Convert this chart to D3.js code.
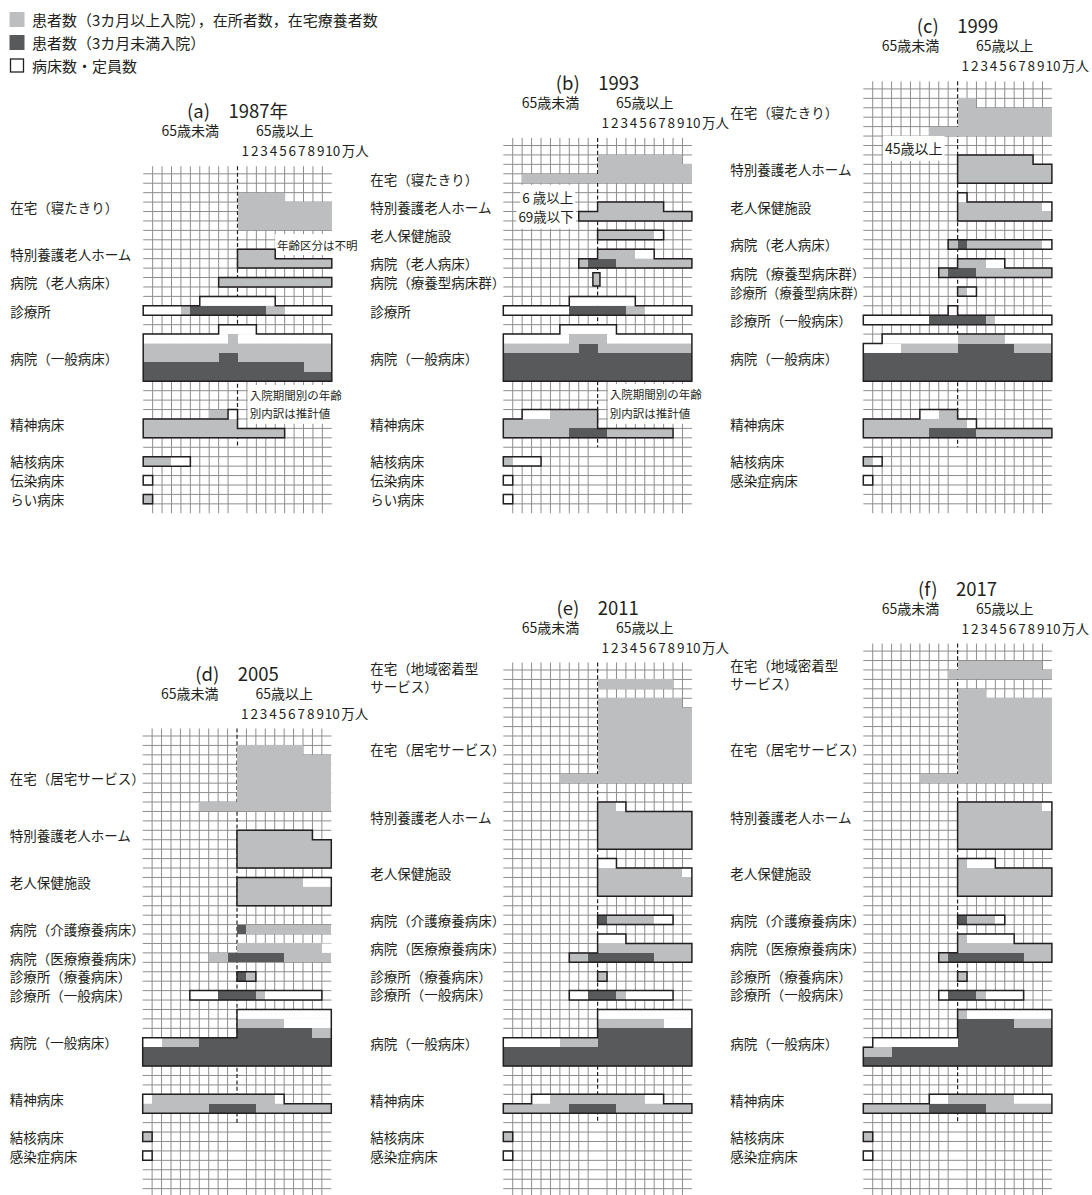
<!DOCTYPE html>
<html lang="ja">
<head>
<meta charset="utf-8">
<script src="https://cdn.jsdelivr.net/npm/d3@7"></script>
<style>
  html, body { margin: 0; padding: 0; background: #fff; }
  svg { display: block; font-family: "Noto Sans CJK JP", "Noto Sans", sans-serif; }
</style>
</head>
<body>
<svg id="chart" width="1092" height="1195"></svg>
<script>
// Units: columns are 1万人 each (-10..0 = 65歳未満, 0..10 = 65歳以上); rows are stacked bands.
// caps  : 病床数・定員数 (white, outlined per category)  [category, row, from, to, (rows)]
// long  : 患者数（3カ月以上入院）・在所者数・在宅療養者数  [row, from, to, (rows)]
// short : 患者数（3カ月未満入院）                          [row, from, to, (rows)]

// ---------- 1987 ----------
const caps1987 = [
  ["特別養護老人ホーム", 8, 0, 4], ["特別養護老人ホーム", 9, 0, 10],
  ["病院（老人病床）", 11, -2, 10],
  ["診療所", 13, -4, 4], ["診療所", 14, -10, 10],
  ["病院（一般病床）", 16, -2, 2], ["病院（一般病床）", 17, -10, 10], ["病院（一般病床）", 18, -10, 10],
  ["病院（一般病床）", 19, -10, 10], ["病院（一般病床）", 20, -10, 10], ["病院（一般病床）", 21, -10, 10],
  ["精神病床", 25, -1, 0], ["精神病床", 26, -10, 0], ["精神病床", 27, -10, 5],
  ["結核病床", 30, -10, -5],
  ["伝染病床", 32, -10, -9],
  ["らい病床", 34, -10, -9]
];
const long1987 = [
  [2, 0, 5], [3, 0, 10], [4, 0, 10], [5, 0, 10],
  [8, 0, 4], [9, 0, 10],
  [11, -2, 10],
  [14, -6, -5], [14, 3, 5],
  [17, -1, 0], [18, -10, 10], [19, -10, 10], [20, 7, 10],
  [25, -3, -1], [26, -10, 0], [27, -10, 5],
  [30, -10, -7],
  [34, -10, -9]
];
const short1987 = [[14, -5, 3], [19, -2, 0], [20, -10, 7], [21, -10, 10]];
const labels1987 = [
  ["在宅（寝たきり）", 3.5], ["特別養護老人ホーム", 8.5], ["病院（老人病床）", 11.5], ["診療所", 14.5],
  ["病院（一般病床）", 19.5], ["精神病床", 26.5], ["結核病床", 30.5], ["伝染病床", 32.5], ["らい病床", 34.5]
];

// ---------- 1993 ----------
const caps1993 = [
  ["特別養護老人ホーム", 6, 0, 7], ["特別養護老人ホーム", 7, -2, 10],
  ["老人保健施設", 9, 0, 7],
  ["病院（老人病床）", 11, 0, 6], ["病院（老人病床）", 12, -2, 10],
  ["病院（療養型病床群）", 13.5, -0.5, 0.25, 1.4],
  ["診療所", 16, -3, 4], ["診療所", 17, -10, 10],
  ["病院（一般病床）", 19, -4, 2], ["病院（一般病床）", 20, -10, 10], ["病院（一般病床）", 21, -10, 10],
  ["病院（一般病床）", 22, -10, 10], ["病院（一般病床）", 23, -10, 10], ["病院（一般病床）", 24, -10, 10],
  ["精神病床", 28, -8, 0], ["精神病床", 29, -10, 0], ["精神病床", 30, -10, 8],
  ["結核病床", 33, -10, -6],
  ["伝染病床", 35, -10, -9],
  ["らい病床", 37, -10, -9]
];
const long1993 = [
  [1, 0, 9], [2, 0, 10], [3, -8, 10],
  [6, 0, 7], [7, -2, 10],
  [9, 0, 6],
  [11, 0, 4], [12, -2, 10],
  [13.5, -0.5, 0.25, 1.4],
  [17, 3, 5],
  [20, -3, 1], [21, -10, 10],
  [28, -5, 0], [29, -10, 0], [30, -10, 8],
  [33, -10, -9]
];
const short1993 = [[12, -1, 2], [17, -3, 3], [21, -2, 0], [22, -10, 10], [23, -10, 10], [24, -10, 10], [30, -3, 1]];
const labels1993 = [
  ["在宅（寝たきり）", 3.5], ["特別養護老人ホーム", 6.5], ["老人保健施設", 9.5], ["病院（老人病床）", 12.5],
  ["病院（療養型病床群）", 14.5], ["診療所", 17.5], ["病院（一般病床）", 22.5], ["精神病床", 29.5],
  ["結核病床", 33.5], ["伝染病床", 35.5], ["らい病床", 37.5]
];

// ---------- 1999 ----------
const caps1999 = [
  ["特別養護老人ホーム", 7, 0, 8], ["特別養護老人ホーム", 8, 0, 10], ["特別養護老人ホーム", 9, 0, 10],
  ["老人保健施設", 11, 0, 1], ["老人保健施設", 12, 0, 10], ["老人保健施設", 13, 0, 10],
  ["病院（老人病床）", 16, -1, 10],
  ["病院（療養型病床群）", 18, 0, 5], ["病院（療養型病床群）", 19, -2, 10],
  ["診療所（療養型病床群）", 21, 0, 2],
  ["診療所（一般病床）", 23, -1, 0], ["診療所（一般病床）", 24, -10, 10],
  ["病院（一般病床）", 26, -8, 10], ["病院（一般病床）", 27, -10, 10], ["病院（一般病床）", 28, -10, 10],
  ["病院（一般病床）", 29, -10, 10], ["病院（一般病床）", 30, -10, 10],
  ["精神病床", 34, -4, 0], ["精神病床", 35, -10, 2], ["精神病床", 36, -10, 10],
  ["結核病床", 39, -10, -8],
  ["感染症病床", 41, -10, -9]
];
const long1999 = [
  [1, 0, 2], [2, 0, 10], [3, 0, 10], [4, -3, 10],
  [7, 0, 8], [8, 0, 10], [9, 0, 10],
  [12, 0, 9], [13, 0, 10],
  [16, -1, 0], [16, 1, 9],
  [18, 0, 3], [19, -2, -1], [19, 2, 10],
  [21, 0, 1],
  [24, 3, 4],
  [26, 0, 5], [27, -6, 0], [27, 6, 10],
  [34, -2, 0], [35, -10, 1], [36, -10, -3], [36, 2, 10],
  [39, -10, -9]
];
const short1999 = [[16, 0, 1], [19, -1, 2], [24, -3, 3], [27, 0, 6], [28, -10, 10], [29, -10, 10], [30, -10, 10], [36, -3, 2]];
const labels1999 = [
  ["在宅（寝たきり）", 2.5], ["特別養護老人ホーム", 8.5], ["老人保健施設", 12.5], ["病院（老人病床）", 16.5],
  ["病院（療養型病床群）", 19.5], ["診療所（療養型病床群）", 21.5], ["診療所（一般病床）", 24.5],
  ["病院（一般病床）", 28.5], ["精神病床", 35.5], ["結核病床", 39.5], ["感染症病床", 41.5]
];

// ---------- 2005 ----------
const caps2005 = [
  ["特別養護老人ホーム", 10, 0, 8], ["特別養護老人ホーム", 11, 0, 10], ["特別養護老人ホーム", 12, 0, 10], ["特別養護老人ホーム", 13, 0, 10],
  ["老人保健施設", 15, 0, 10], ["老人保健施設", 16, 0, 10], ["老人保健施設", 17, 0, 10],
  ["診療所（療養病床）", 25, 0, 2],
  ["診療所（一般病床）", 27, -5, 9],
  ["病院（一般病床）", 29, 0, 10], ["病院（一般病床）", 30, 0, 10], ["病院（一般病床）", 31, 0, 10],
  ["病院（一般病床）", 32, -10, 10], ["病院（一般病床）", 33, -10, 10], ["病院（一般病床）", 34, -10, 10],
  ["精神病床", 38, -10, 5], ["精神病床", 39, -10, 10],
  ["結核病床", 42, -10, -9],
  ["感染症病床", 44, -10, -9]
];
const open2005 = [[22, 9, 10]];   // unoccupied beds drawn without an outline
const long2005 = [
  [1, 0, 7], [2, 0, 10], [3, 0, 10], [4, 0, 10], [5, 0, 10], [6, 0, 10], [7, -4, 10],
  [10, 0, 8], [11, 0, 10], [12, 0, 10], [13, 0, 10],
  [15, 0, 7], [16, 0, 10], [17, 0, 10],
  [20, 1, 10],
  [22, 0, 9], [23, -3, -1], [23, 5, 10],
  [25, 1, 2],
  [27, 2, 3],
  [30, 0, 5], [31, 8, 10], [32, -8, -4],
  [38, -9, 4], [39, -10, -3], [39, 2, 10],
  [42, -10, -9]
];
const short2005 = [[20, 0, 1], [23, -1, 5], [25, 0, 1], [27, -2, 2], [31, 0, 8], [32, -4, 10], [33, -10, 10], [34, -10, 10], [39, -3, 2]];
const labels2005 = [
  ["在宅（居宅サービス）", 4.5], ["特別養護老人ホーム", 10.5], ["老人保健施設", 15.5], ["病院（介護療養病床）", 20.5],
  ["病院（医療療養病床）", 23.5], ["診療所（療養病床）", 25.5], ["診療所（一般病床）", 27.5], ["病院（一般病床）", 32.5],
  ["精神病床", 38.5], ["結核病床", 42.5], ["感染症病床", 44.5]
];

// ---------- 2011 ----------
const caps2011 = [
  ["特別養護老人ホーム", 14, 0, 3], ["特別養護老人ホーム", 15, 0, 10], ["特別養護老人ホーム", 16, 0, 10],
  ["特別養護老人ホーム", 17, 0, 10], ["特別養護老人ホーム", 18, 0, 10],
  ["老人保健施設", 20, 0, 2], ["老人保健施設", 21, 0, 10], ["老人保健施設", 22, 0, 10], ["老人保健施設", 23, 0, 10],
  ["病院（介護療養病床）", 26, 0, 8],
  ["病院（医療療養病床）", 28, 0, 3], ["病院（医療療養病床）", 29, 0, 10], ["病院（医療療養病床）", 30, -3, 10],
  ["診療所（療養病床）", 32, 0, 1],
  ["診療所（一般病床）", 34, -3, 8],
  ["病院（一般病床）", 36, 0, 10], ["病院（一般病床）", 37, 0, 10], ["病院（一般病床）", 38, 0, 10],
  ["病院（一般病床）", 39, -10, 10], ["病院（一般病床）", 40, -10, 10], ["病院（一般病床）", 41, -10, 10],
  ["精神病床", 45, -7, 7], ["精神病床", 46, -10, 10],
  ["結核病床", 49, -10, -9],
  ["感染症病床", 51, -10, -9]
];
const long2011 = [
  [1, 0, 8],
  [3, 0, 9], [4, 0, 10], [5, 0, 10], [6, 0, 10], [7, 0, 10], [8, 0, 10], [9, 0, 10], [10, 0, 10], [11, -4, 10],
  [14, 0, 2], [15, 0, 10], [16, 0, 10], [17, 0, 10], [18, 0, 10],
  [21, 0, 9], [22, 0, 10], [23, 0, 10],
  [26, 1, 6],
  [29, 0, 10], [30, -3, -1], [30, 6, 10],
  [32, 0, 1],
  [34, 2, 3],
  [37, 0, 7], [39, -4, 0],
  [45, -5, 5], [46, -10, -3], [46, 2, 10],
  [49, -10, -9]
];
const short2011 = [[26, 0, 1], [30, -1, 6], [34, -1, 2], [38, 0, 10], [39, 0, 10], [40, -10, 10], [41, -10, 10], [46, -3, 2]];
const labels2011 = [
  ["在宅（地域密着型\nサービス）", 0.7], ["在宅（居宅サービス）", 8.4], ["特別養護老人ホーム", 15.6], ["老人保健施設", 21.5],
  ["病院（介護療養病床）", 26.5], ["病院（医療療養病床）", 29.5], ["診療所（療養病床）", 32.4], ["診療所（一般病床）", 34.4],
  ["病院（一般病床）", 39.6], ["精神病床", 45.6], ["結核病床", 49.5], ["感染症病床", 51.5]
];

// ---------- 2017 ----------
const caps2017 = [
  ["特別養護老人ホーム", 16, 0, 10], ["特別養護老人ホーム", 17, 0, 10], ["特別養護老人ホーム", 18, 0, 10],
  ["特別養護老人ホーム", 19, 0, 10], ["特別養護老人ホーム", 20, 0, 10],
  ["老人保健施設", 22, 0, 4], ["老人保健施設", 23, 0, 10], ["老人保健施設", 24, 0, 10], ["老人保健施設", 25, 0, 10],
  ["病院（介護療養病床）", 28, 0, 5],
  ["病院（医療療養病床）", 30, 0, 6], ["病院（医療療養病床）", 31, 0, 10], ["病院（医療療養病床）", 32, -2, 10],
  ["診療所（療養病床）", 34, 0, 1],
  ["診療所（一般病床）", 36, -2, 7],
  ["病院（一般病床）", 38, 0, 10], ["病院（一般病床）", 39, 0, 10], ["病院（一般病床）", 40, 0, 10],
  ["病院（一般病床）", 41, -9, 10], ["病院（一般病床）", 42, -10, 10], ["病院（一般病床）", 43, -10, 10],
  ["精神病床", 47, -3, 10], ["精神病床", 48, -10, 10],
  ["結核病床", 51, -10, -9],
  ["感染症病床", 53, -10, -9]
];
const long2017 = [
  [1, 0, 9], [2, -1, 10],
  [4, 0, 3], [5, 0, 10], [6, 0, 10], [7, 0, 10], [8, 0, 10], [9, 0, 10], [10, 0, 10], [11, 0, 10], [12, 0, 10], [13, -4, 10],
  [16, 0, 9], [17, 0, 10], [18, 0, 10], [19, 0, 10], [20, 0, 10],
  [22, 0, 1], [23, 0, 10], [24, 0, 10], [25, 0, 10],
  [28, 1, 4],
  [30, 0, 1], [31, 0, 10], [32, -2, -1], [32, 7, 10],
  [34, 0, 1],
  [36, 2, 3],
  [38, 0, 1], [39, 6, 10], [42, -10, -7],
  [47, -1, 6], [48, -10, -3], [48, 3, 10],
  [51, -10, -9]
];
const short2017 = [[28, 0, 1], [32, -1, 7], [36, -1, 2], [39, 0, 6], [40, 0, 10], [41, 0, 10], [42, -7, 10], [43, -10, 10], [48, -3, 3]];
const labels2017 = [
  ["在宅（地域密着型\nサービス）", 2.4], ["在宅（居宅サービス）", 10.4], ["特別養護老人ホーム", 17.6], ["老人保健施設", 23.5],
  ["病院（介護療養病床）", 28.5], ["病院（医療療養病床）", 31.5], ["診療所（療養病床）", 34.5], ["診療所（一般病床）", 36.4],
  ["病院（一般病床）", 41.6], ["精神病床", 47.6], ["結核病床", 51.5], ["感染症病床", 53.5]
];

// Legend entries
const legendItems = [
  ["long", "患者数（3カ月以上入院），在所者数，在宅療養者数"],
  ["short", "患者数（3カ月未満入院）"],
  ["cap", "病床数・定員数"]
];
const unitTicks = ["1", "2", "3", "4", "5", "6", "7", "8", "9"];

// ---------- layout ----------
const CELL = 9.43;
const LABEL_FONT = 13.5;
const LABEL_MAX = 10 * LABEL_FONT;   // longer labels are condensed to this width
const COLOR = { long: "#bcbec0", short: "#58595b", ink: "#231f20", grid: "#8d8d8d" };
const panels = [
  { title: "(a)\u30001987年", left: 143.2, top: 173.8, rows: 35, caps: caps1987, long: long1987, short: short1987, open: [], labels: labels1987,
    notes: [["年齢区分は不明", 7.5, 4.2, 11.5], ["入院期間別の年齢", 23.5, 1.3, 11.5], ["別内訳は推計値", 25.4, 1.3, 11.5]] },
  { title: "(b)\u30001993", left: 503.3, top: 145.5, rows: 38, caps: caps1993, long: long1993, short: short1993, open: [], labels: labels1993,
    notes: [["6 歳以上", 5.5, -8.0, 13.5], ["69歳以下", 7.5, -8.4, 13.5], ["入院期間別の年齢", 26.4, 1.3, 11.5], ["別内訳は推計値", 28.4, 1.3, 11.5]] },
  { title: "(c)\u30001999", left: 863.3, top: 88.9, rows: 44, caps: caps1999, long: long1999, short: short1999, open: [], labels: labels1999,
    notes: [["45歳以上", 6.3, -7.7, 14]] },
  { title: "(d)\u30002005", left: 142.7, top: 736, rows: 48, caps: caps2005, long: long2005, short: short2005, open: open2005, labels: labels2005, notes: [] },
  { title: "(e)\u30002011", left: 503.3, top: 670, rows: 55, caps: caps2011, long: long2011, short: short2011, open: [], labels: labels2011, notes: [] },
  { title: "(f)\u30002017", left: 863.3, top: 651.1, rows: 57, caps: caps2017, long: long2017, short: short2017, open: [], labels: labels2017, notes: [] }
];

const svg = d3.select("#chart");

// ---------- legend ----------
const legend = svg.append("g").attr("class", "legend");
legendItems.forEach(([kind, text], i) => {
  const cy = 19.5 + i * 23;
  if (kind === "cap") {
    legend.append("rect").attr("x", 10.5).attr("y", cy - 6.5).attr("width", 13).attr("height", 13)
      .attr("fill", "#fff").attr("stroke", COLOR.ink).attr("stroke-width", 1.3);
  } else {
    legend.append("rect").attr("x", 9.5).attr("y", cy - 7.5).attr("width", 15).attr("height", 15).attr("fill", COLOR[kind]);
  }
  legend.append("text").attr("x", 32).attr("y", cy).attr("dominant-baseline", "central")
    .attr("font-size", 15).attr("fill", COLOR.ink).text(text);
});

const seg = d => ({ r: d[0], L: d[1], R: d[2], h: d.length > 3 ? d[3] : 1 });

function outlinePath(rows, x, y) {
  const pts = [];
  rows.forEach(d => { pts.push([x(d.R), y(d.r)], [x(d.R), y(d.r + d.h)]); });
  rows.slice().reverse().forEach(d => { pts.push([x(d.L), y(d.r + d.h)], [x(d.L), y(d.r)]); });
  return "M" + pts.map(p => p.join(",")).join("L") + "Z";
}

panels.forEach(p => {
  const g = svg.append("g");
  const x = d3.scaleLinear().domain([-10, 10]).range([p.left, p.left + 20 * CELL]);
  const y = d3.scaleLinear().domain([0, p.rows]).range([p.top, p.top + p.rows * CELL]);

  // grid
  const grid = g.append("g").attr("stroke", COLOR.grid).attr("stroke-width", 1);
  grid.selectAll("line.h").data(d3.range(0, p.rows + 1)).join("line").attr("class", "h")
    .attr("x1", x(-10)).attr("x2", x(10)).attr("y1", d => y(d)).attr("y2", d => y(d));
  grid.selectAll("line.v").data(d3.range(-9, 10).filter(c => c !== 0)).join("line").attr("class", "v")
    .attr("x1", d => x(d)).attr("x2", d => x(d)).attr("y1", y(-0.8)).attr("y2", y(p.rows + 1));

  // 65歳 boundary
  const psych = p.caps.filter(c => c[0] === "精神病床").map(c => c[1] + 1);
  g.append("line").attr("x1", x(0)).attr("x2", x(0)).attr("y1", y(-0.8)).attr("y2", y(d3.max(psych) + 1))
    .attr("stroke", COLOR.ink).attr("stroke-width", 1.2).attr("stroke-dasharray", "4,2.4");

  // headers
  g.append("text").attr("x", x(0)).attr("y", p.top - 63.5).attr("text-anchor", "middle").attr("dominant-baseline", "central")
    .attr("font-size", 18.5).attr("fill", COLOR.ink).text(p.title);
  g.append("text").attr("x", x(-5)).attr("y", p.top - 43.5).attr("text-anchor", "middle").attr("dominant-baseline", "central")
    .attr("font-size", 14).attr("fill", COLOR.ink).text("65歳未満");
  g.append("text").attr("x", x(5)).attr("y", p.top - 43.5).attr("text-anchor", "middle").attr("dominant-baseline", "central")
    .attr("font-size", 14).attr("fill", COLOR.ink).text("65歳以上");
  const ticks = g.append("g").attr("font-size", 13.5).attr("fill", COLOR.ink).attr("dominant-baseline", "central");
  ticks.selectAll("text.n").data(unitTicks).join("text").attr("class", "n")
    .attr("x", (d, i) => x(i + 0.5) + 3).attr("y", p.top - 23.5).attr("text-anchor", "middle").text(d => d);
  ticks.append("text").attr("x", x(9) + 3).attr("y", p.top - 23.5).text("10");
  ticks.append("text").attr("x", x(10) + 10).attr("y", p.top - 23.5).text("万人");

  // notes on white ground
  const notes = g.append("g");
  p.notes.forEach(([text, row, col, size]) => {
    const t = notes.append("text").attr("x", x(col)).attr("y", y(row)).attr("dominant-baseline", "central")
      .attr("font-size", size).attr("fill", COLOR.ink).text(text);
    const b = t.node().getBBox();
    notes.insert("rect", "text").attr("x", b.x - 2).attr("y", b.y - 2.5).attr("width", b.width + 4).attr("height", b.height + 5).attr("fill", "#fff");
  });

  // bed capacity ground
  const caps = p.caps.map(c => ({ cat: c[0], ...seg(c.slice(1)) }));
  g.append("g").selectAll("rect").data(caps.concat(p.open.map(seg))).join("rect")
    .attr("x", d => x(d.L)).attr("y", d => y(d.r)).attr("width", d => x(d.R) - x(d.L)).attr("height", d => y(d.r + d.h) - y(d.r))
    .attr("fill", "#fff");

  // patients
  ["long", "short"].forEach(kind => {
    g.append("g").selectAll("rect").data(p[kind].map(seg)).join("rect")
      .attr("x", d => x(d.L)).attr("y", d => y(d.r)).attr("width", d => x(d.R) - x(d.L)).attr("height", d => y(d.r + d.h) - y(d.r))
      .attr("fill", COLOR[kind]).attr("shape-rendering", "crispEdges");
  });

  // capacity outlines per category
  const groups = d3.groups(caps, d => d.cat);
  g.append("g").selectAll("path").data(groups).join("path")
    .attr("d", ([, rows]) => outlinePath(rows.sort((a, b) => a.r - b.r), x, y))
    .attr("fill", "none").attr("stroke", COLOR.ink).attr("stroke-width", 1.5).attr("stroke-linejoin", "miter");

  // row labels
  const lab = g.append("g").attr("font-size", LABEL_FONT).attr("fill", COLOR.ink);
  p.labels.forEach(([text, row]) => {
    const lines = text.split("\n");
    lines.forEach((ln, i) => {
      const t = lab.append("text").attr("x", p.left - 133).attr("y", y(row) + (i - (lines.length - 1) / 2) * 18)
        .attr("dominant-baseline", "central").text(ln);
      if (t.node().getComputedTextLength() > LABEL_MAX + 1) {
        t.attr("textLength", LABEL_MAX).attr("lengthAdjust", "spacingAndGlyphs");
      }
    });
  });
});
</script>
</body>
</html>
